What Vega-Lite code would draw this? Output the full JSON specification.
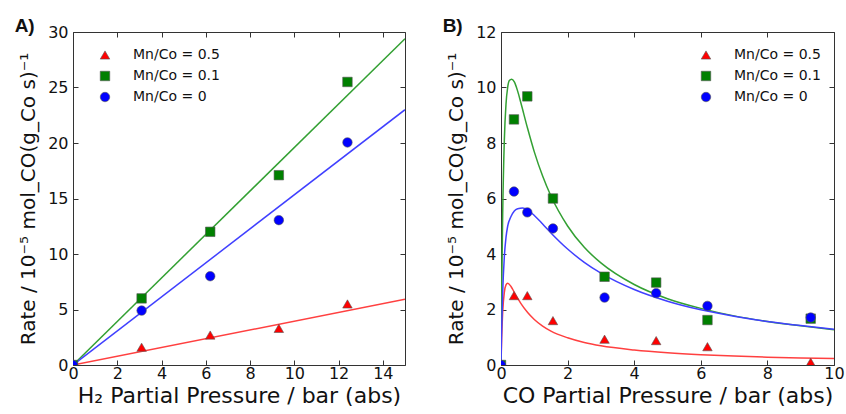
{
  "$schema": "https://vega.github.io/schema/vega-lite/v6.json",
  "background": "white",
  "padding": {"left": 14, "top": 16, "right": 5, "bottom": 0},
  "spacing": 36,
  "config": {
    "font": "DejaVu Sans",
    "view": {"stroke": "#333", "strokeWidth": 1},
    "axis": {"domain": false, "grid": false, "ticks": true, "labelFontSize": 16, "labelColor": "#111", "titleFontSize": 22, "titleFontWeight": "normal", "titleColor": "#111", "tickColor": "#333", "tickSize": -5, "tickWidth": 1, "labelFlush": false, "labelOverlap": false},
    "axisX": {"labelPadding": 5, "titlePadding": 4},
    "axisY": {"labelPadding": 10, "titlePadding": 9, "titleFontSize": 20},
    "legend": {"labelFontSize": 14, "labelColor": "#111", "symbolSize": 90, "labelOffset": 21, "rowPadding": 7, "padding": 0, "symbolStrokeWidth": 0.6, "symbolStrokeColor": "#555"},
    "title": {"font": "Liberation Sans", "fontWeight": "bold", "fontSize": 19, "anchor": "start", "frame": "bounds", "color": "#111"}
  },
  "datasets": {
    "ptsA": [
      {"P": 0, "rate": 0, "series": "Mn/Co = 0.5"},
      {"P": 3.1, "rate": 1.6, "series": "Mn/Co = 0.5"},
      {"P": 6.2, "rate": 2.7, "series": "Mn/Co = 0.5"},
      {"P": 9.3, "rate": 3.3, "series": "Mn/Co = 0.5"},
      {"P": 12.4, "rate": 5.5, "series": "Mn/Co = 0.5"},
      {"P": 0, "rate": 0, "series": "Mn/Co = 0.1"},
      {"P": 3.1, "rate": 6.0, "series": "Mn/Co = 0.1"},
      {"P": 6.2, "rate": 12.0, "series": "Mn/Co = 0.1"},
      {"P": 9.3, "rate": 17.1, "series": "Mn/Co = 0.1"},
      {"P": 12.4, "rate": 25.5, "series": "Mn/Co = 0.1"},
      {"P": 0, "rate": 0, "series": "Mn/Co = 0"},
      {"P": 3.1, "rate": 4.9, "series": "Mn/Co = 0"},
      {"P": 6.2, "rate": 8.0, "series": "Mn/Co = 0"},
      {"P": 9.3, "rate": 13.05, "series": "Mn/Co = 0"},
      {"P": 12.4, "rate": 20.05, "series": "Mn/Co = 0"}
    ],
    "lineA": [
      {"P": 0, "rate": 0, "series": "Mn/Co = 0.5"},
      {"P": 15, "rate": 5.92, "series": "Mn/Co = 0.5"},
      {"P": 0, "rate": 0, "series": "Mn/Co = 0.1"},
      {"P": 15, "rate": 29.4, "series": "Mn/Co = 0.1"},
      {"P": 0, "rate": 0, "series": "Mn/Co = 0"},
      {"P": 15, "rate": 23.0, "series": "Mn/Co = 0"}
    ],
    "ptsB": [
      {"P": 0, "rate": 0, "series": "Mn/Co = 0.5"},
      {"P": 0.39, "rate": 2.5, "series": "Mn/Co = 0.5"},
      {"P": 0.79, "rate": 2.5, "series": "Mn/Co = 0.5"},
      {"P": 1.56, "rate": 1.6, "series": "Mn/Co = 0.5"},
      {"P": 3.11, "rate": 0.93, "series": "Mn/Co = 0.5"},
      {"P": 4.66, "rate": 0.88, "series": "Mn/Co = 0.5"},
      {"P": 6.2, "rate": 0.66, "series": "Mn/Co = 0.5"},
      {"P": 9.3, "rate": 0.1, "series": "Mn/Co = 0.5"},
      {"P": 0, "rate": 0, "series": "Mn/Co = 0.1"},
      {"P": 0.39, "rate": 8.85, "series": "Mn/Co = 0.1"},
      {"P": 0.79, "rate": 9.68, "series": "Mn/Co = 0.1"},
      {"P": 1.56, "rate": 6.0, "series": "Mn/Co = 0.1"},
      {"P": 3.11, "rate": 3.18, "series": "Mn/Co = 0.1"},
      {"P": 4.66, "rate": 2.97, "series": "Mn/Co = 0.1"},
      {"P": 6.2, "rate": 1.62, "series": "Mn/Co = 0.1"},
      {"P": 9.3, "rate": 1.67, "series": "Mn/Co = 0.1"},
      {"P": 0, "rate": 0, "series": "Mn/Co = 0"},
      {"P": 0.39, "rate": 6.25, "series": "Mn/Co = 0"},
      {"P": 0.79, "rate": 5.5, "series": "Mn/Co = 0"},
      {"P": 1.56, "rate": 4.92, "series": "Mn/Co = 0"},
      {"P": 3.11, "rate": 2.43, "series": "Mn/Co = 0"},
      {"P": 4.66, "rate": 2.59, "series": "Mn/Co = 0"},
      {"P": 6.2, "rate": 2.13, "series": "Mn/Co = 0"},
      {"P": 9.3, "rate": 1.71, "series": "Mn/Co = 0"}
    ],
    "lineB": [
      {"P": 0, "rate": 0, "series": "Mn/Co = 0.5"},
      {"P": 0.02, "rate": 0.98, "series": "Mn/Co = 0.5"},
      {"P": 0.05, "rate": 1.89, "series": "Mn/Co = 0.5"},
      {"P": 0.1, "rate": 2.62, "series": "Mn/Co = 0.5"},
      {"P": 0.15, "rate": 2.89, "series": "Mn/Co = 0.5"},
      {"P": 0.2, "rate": 2.95, "series": "Mn/Co = 0.5"},
      {"P": 0.3, "rate": 2.83, "series": "Mn/Co = 0.5"},
      {"P": 0.4, "rate": 2.62, "series": "Mn/Co = 0.5"},
      {"P": 0.5, "rate": 2.41, "series": "Mn/Co = 0.5"},
      {"P": 0.6, "rate": 2.21, "series": "Mn/Co = 0.5"},
      {"P": 0.8, "rate": 1.89, "series": "Mn/Co = 0.5"},
      {"P": 1.0, "rate": 1.64, "series": "Mn/Co = 0.5"},
      {"P": 1.25, "rate": 1.4, "series": "Mn/Co = 0.5"},
      {"P": 1.5, "rate": 1.22, "series": "Mn/Co = 0.5"},
      {"P": 2, "rate": 0.98, "series": "Mn/Co = 0.5"},
      {"P": 2.5, "rate": 0.81, "series": "Mn/Co = 0.5"},
      {"P": 3, "rate": 0.69, "series": "Mn/Co = 0.5"},
      {"P": 4, "rate": 0.54, "series": "Mn/Co = 0.5"},
      {"P": 5, "rate": 0.44, "series": "Mn/Co = 0.5"},
      {"P": 6, "rate": 0.37, "series": "Mn/Co = 0.5"},
      {"P": 7, "rate": 0.32, "series": "Mn/Co = 0.5"},
      {"P": 8, "rate": 0.28, "series": "Mn/Co = 0.5"},
      {"P": 9, "rate": 0.25, "series": "Mn/Co = 0.5"},
      {"P": 10, "rate": 0.23, "series": "Mn/Co = 0.5"},
      {"P": 0, "rate": 0, "series": "Mn/Co = 0.1"},
      {"P": 0.02, "rate": 2.6, "series": "Mn/Co = 0.1"},
      {"P": 0.05, "rate": 5.4, "series": "Mn/Co = 0.1"},
      {"P": 0.1, "rate": 8.1, "series": "Mn/Co = 0.1"},
      {"P": 0.15, "rate": 9.4, "series": "Mn/Co = 0.1"},
      {"P": 0.2, "rate": 10.0, "series": "Mn/Co = 0.1"},
      {"P": 0.25, "rate": 10.25, "series": "Mn/Co = 0.1"},
      {"P": 0.32, "rate": 10.3, "series": "Mn/Co = 0.1"},
      {"P": 0.4, "rate": 10.2, "series": "Mn/Co = 0.1"},
      {"P": 0.5, "rate": 9.87, "series": "Mn/Co = 0.1"},
      {"P": 0.6, "rate": 9.43, "series": "Mn/Co = 0.1"},
      {"P": 0.8, "rate": 8.52, "series": "Mn/Co = 0.1"},
      {"P": 1.0, "rate": 7.68, "series": "Mn/Co = 0.1"},
      {"P": 1.25, "rate": 6.81, "series": "Mn/Co = 0.1"},
      {"P": 1.5, "rate": 6.09, "series": "Mn/Co = 0.1"},
      {"P": 2, "rate": 5.01, "series": "Mn/Co = 0.1"},
      {"P": 2.5, "rate": 4.24, "series": "Mn/Co = 0.1"},
      {"P": 3, "rate": 3.68, "series": "Mn/Co = 0.1"},
      {"P": 4, "rate": 2.9, "series": "Mn/Co = 0.1"},
      {"P": 5, "rate": 2.39, "series": "Mn/Co = 0.1"},
      {"P": 6, "rate": 2.04, "series": "Mn/Co = 0.1"},
      {"P": 7, "rate": 1.77, "series": "Mn/Co = 0.1"},
      {"P": 8, "rate": 1.57, "series": "Mn/Co = 0.1"},
      {"P": 9, "rate": 1.41, "series": "Mn/Co = 0.1"},
      {"P": 10, "rate": 1.27, "series": "Mn/Co = 0.1"},
      {"P": 0, "rate": 0, "series": "Mn/Co = 0"},
      {"P": 0.02, "rate": 1.3, "series": "Mn/Co = 0"},
      {"P": 0.05, "rate": 2.6, "series": "Mn/Co = 0"},
      {"P": 0.1, "rate": 3.9, "series": "Mn/Co = 0"},
      {"P": 0.15, "rate": 4.6, "series": "Mn/Co = 0"},
      {"P": 0.2, "rate": 5.0, "series": "Mn/Co = 0"},
      {"P": 0.3, "rate": 5.35, "series": "Mn/Co = 0"},
      {"P": 0.4, "rate": 5.55, "series": "Mn/Co = 0"},
      {"P": 0.5, "rate": 5.63, "series": "Mn/Co = 0"},
      {"P": 0.65, "rate": 5.66, "series": "Mn/Co = 0"},
      {"P": 0.8, "rate": 5.59, "series": "Mn/Co = 0"},
      {"P": 1.0, "rate": 5.39, "series": "Mn/Co = 0"},
      {"P": 1.25, "rate": 5.08, "series": "Mn/Co = 0"},
      {"P": 1.5, "rate": 4.76, "series": "Mn/Co = 0"},
      {"P": 2, "rate": 4.18, "series": "Mn/Co = 0"},
      {"P": 2.5, "rate": 3.7, "series": "Mn/Co = 0"},
      {"P": 3, "rate": 3.31, "series": "Mn/Co = 0"},
      {"P": 4, "rate": 2.72, "series": "Mn/Co = 0"},
      {"P": 5, "rate": 2.3, "series": "Mn/Co = 0"},
      {"P": 6, "rate": 1.99, "series": "Mn/Co = 0"},
      {"P": 7, "rate": 1.76, "series": "Mn/Co = 0"},
      {"P": 8, "rate": 1.57, "series": "Mn/Co = 0"},
      {"P": 9, "rate": 1.42, "series": "Mn/Co = 0"},
      {"P": 10, "rate": 1.29, "series": "Mn/Co = 0"}
    ]
  },
  "hconcat": [
    {
      "width": 332,
      "height": 333,
      "title": {"text": "A)", "dx": -4, "offset": -12},
      "layer": [
        {
          "data": {"name": "lineA"},
          "mark": {"type": "line", "strokeWidth": 1.5, "clip": true},
          "encoding": {
            "x": {"field": "P", "type": "quantitative", "scale": {"domain": [0, 15], "nice": false}, "axis": {"title": "H₂ Partial Pressure / bar (abs)", "values": [0, 2, 4, 6, 8, 10, 12, 14]}},
            "y": {"field": "rate", "type": "quantitative", "scale": {"domain": [0, 30], "nice": false}, "axis": {"title": "Rate / 10⁻⁵ mol_CO(g_Co s)⁻¹", "values": [0, 5, 10, 15, 20, 25, 30]}},
            "stroke": {"field": "series", "type": "nominal", "scale": {"domain": ["Mn/Co = 0.5", "Mn/Co = 0.1", "Mn/Co = 0"], "range": ["#ff4040", "#33a033", "#4040ff"]}, "legend": null}
          }
        },
        {
          "data": {"name": "ptsA"},
          "mark": {"type": "point", "filled": true, "opacity": 1, "stroke": "#555", "strokeWidth": 0.6, "size": 90, "clip": true},
          "encoding": {
            "x": {"field": "P", "type": "quantitative", "axis": {"orient": "top", "labels": false, "title": null, "values": [0, 2, 4, 6, 8, 10, 12, 14]}},
            "y": {"field": "rate", "type": "quantitative", "axis": {"orient": "right", "labels": false, "title": null, "values": [0, 5, 10, 15, 20, 25, 30]}},
            "color": {"field": "series", "type": "nominal", "scale": {"domain": ["Mn/Co = 0.5", "Mn/Co = 0.1", "Mn/Co = 0"], "range": ["#ff0000", "#008000", "#0000ff"]}, "legend": {"orient": "none", "legendX": 25, "legendY": 16, "title": null, "labelFontSize": 14, "symbolSize": 90, "labelOffset": 21, "rowPadding": 7}},
            "shape": {"field": "series", "type": "nominal", "scale": {"domain": ["Mn/Co = 0.5", "Mn/Co = 0.1", "Mn/Co = 0"], "range": ["triangle-up", "square", "circle"]}, "legend": {"orient": "none", "legendX": 25, "legendY": 16, "title": null, "labelFontSize": 14, "symbolSize": 90, "labelOffset": 21, "rowPadding": 7}}
          }
        }
      ],
      "resolve": {"axis": {"x": "independent", "y": "independent"}}
    },
    {
      "width": 333,
      "height": 333,
      "title": {"text": "B)", "dx": -4, "offset": -12},
      "layer": [
        {
          "data": {"name": "lineB"},
          "mark": {"type": "line", "strokeWidth": 1.5, "clip": true, "interpolate": "monotone"},
          "encoding": {
            "x": {"field": "P", "type": "quantitative", "scale": {"domain": [0, 10], "nice": false}, "axis": {"title": "CO Partial Pressure / bar (abs)", "values": [0, 2, 4, 6, 8, 10]}},
            "y": {"field": "rate", "type": "quantitative", "scale": {"domain": [0, 12], "nice": false}, "axis": {"title": "Rate / 10⁻⁵ mol_CO(g_Co s)⁻¹", "values": [0, 2, 4, 6, 8, 10, 12]}},
            "stroke": {"field": "series", "type": "nominal", "scale": {"domain": ["Mn/Co = 0.5", "Mn/Co = 0.1", "Mn/Co = 0"], "range": ["#ff4040", "#33a033", "#4040ff"]}, "legend": null}
          }
        },
        {
          "data": {"name": "ptsB"},
          "mark": {"type": "point", "filled": true, "opacity": 1, "stroke": "#555", "strokeWidth": 0.6, "size": 90, "clip": true},
          "encoding": {
            "x": {"field": "P", "type": "quantitative", "axis": {"orient": "top", "labels": false, "title": null, "values": [0, 2, 4, 6, 8, 10]}},
            "y": {"field": "rate", "type": "quantitative", "axis": {"orient": "right", "labels": false, "title": null, "values": [0, 2, 4, 6, 8, 10, 12]}},
            "color": {"field": "series", "type": "nominal", "scale": {"domain": ["Mn/Co = 0.5", "Mn/Co = 0.1", "Mn/Co = 0"], "range": ["#ff0000", "#008000", "#0000ff"]}, "legend": {"orient": "none", "legendX": 198, "legendY": 16, "title": null, "labelFontSize": 14, "symbolSize": 90, "labelOffset": 21, "rowPadding": 7}},
            "shape": {"field": "series", "type": "nominal", "scale": {"domain": ["Mn/Co = 0.5", "Mn/Co = 0.1", "Mn/Co = 0"], "range": ["triangle-up", "square", "circle"]}, "legend": {"orient": "none", "legendX": 198, "legendY": 16, "title": null, "labelFontSize": 14, "symbolSize": 90, "labelOffset": 21, "rowPadding": 7}}
          }
        }
      ],
      "resolve": {"axis": {"x": "independent", "y": "independent"}}
    }
  ],
  "resolve": {"scale": {"color": "independent", "shape": "independent"}, "legend": {"color": "independent", "shape": "independent"}}
}
